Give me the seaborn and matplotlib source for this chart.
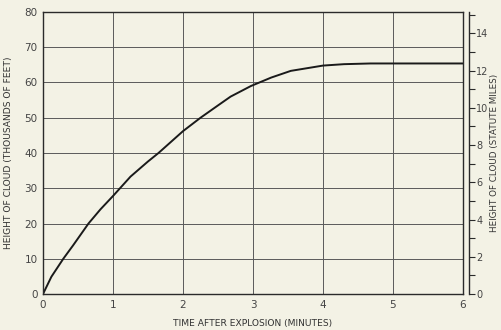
import matplotlib
matplotlib.use("Agg")
import matplotlib.pyplot as plt
import seaborn as sns
import pandas as pd

# Data
time_min = [0, 0.12, 0.29, 0.43, 0.65, 0.82, 1, 1.1, 1.25, 1.5, 1.65, 2,
            2.25, 2.5, 2.68, 2.97, 3.26, 3.54, 4, 4.3, 4.68, 5, 6]
height_kft = [0, 4.9, 10, 13.8, 20, 24, 27.8, 30, 33.3, 37.6, 40, 46.2,
              50, 53.5, 56, 59, 61.4, 63.3, 64.8, 65.2, 65.4, 65.4, 65.4]
x_ticks = [0, 1, 2, 3, 4, 5, 6]
y_ticks = [0, 10, 20, 30, 40, 50, 60, 70, 80]
mile_ticks = [0, 2, 4, 6, 8, 10, 12, 14]

sns.set_style("white")
plt.rcParams['font.family'] = ['DejaVu Sans']

bg = "#f3f2e5"
ink = "#2a2a2a"
grid = "#5a5a5a"

fig = plt.figure(figsize=(5.01, 3.30), dpi=100, facecolor=bg)
ax = fig.add_axes([43/501, 36/330, 420/501, 282/330])
ax.set_facecolor(bg)

df = pd.DataFrame({"t": time_min, "h": height_kft})
sns.lineplot(data=df, x="t", y="h", ax=ax, color="#1a1a1a", linewidth=1.4)

ax.set_xlim(0, 6)
ax.set_ylim(0, 80)
ax.set_xticks(x_ticks)
ax.set_yticks(y_ticks)
ax.set_xticklabels([str(v) for v in x_ticks])
ax.set_yticklabels([str(v) for v in y_ticks])
ax.grid(True, color=grid, linewidth=0.7)
ax.set_axisbelow(True)
for s in ax.spines.values():
    s.set_color(ink)
    s.set_linewidth(1.0)
ax.tick_params(axis="both", length=0, labelsize=7.5, colors="#444444", pad=4)
ax.set_xlabel("TIME AFTER EXPLOSION (MINUTES)", fontsize=6.6, color="#333333", labelpad=7)
ax.set_ylabel("HEIGHT OF CLOUD (THOUSANDS OF FEET)", fontsize=6.6, color="#333333", labelpad=8)

ax2 = ax.twinx()
ax2.set_ylim(0, 80000 / 5280)
ax2.set_yticks(mile_ticks)
ax2.set_yticks(list(range(0, 16)), minor=True)
ax2.set_yticklabels([str(v) for v in mile_ticks])
for name in ["top", "left", "bottom"]:
    ax2.spines[name].set_visible(False)
ax2.spines["right"].set_position(("outward", 4))
ax2.spines["right"].set_bounds(0, 80000 / 5280)
ax2.spines["right"].set_color(ink)
ax2.spines["right"].set_linewidth(1.0)
ax2.tick_params(axis="y", which="both", length=4, width=0.8, color=ink,
                labelsize=7, labelcolor="#444444", pad=1.5)
ax2.set_ylabel("HEIGHT OF CLOUD (STATUTE MILES)", fontsize=6.3, color="#333333", labelpad=1)

fig.savefig("out.png", dpi=100, facecolor=bg)
